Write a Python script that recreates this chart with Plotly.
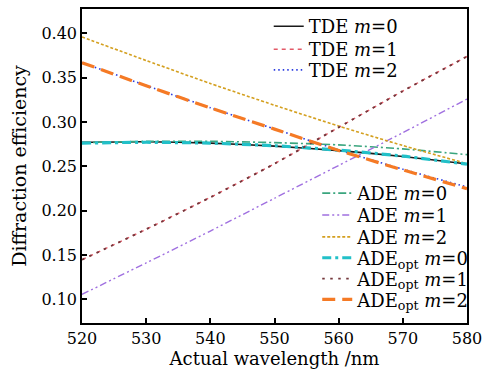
import plotly.graph_objects as go

wavelength = [520, 530, 540, 550, 560, 570, 580]

tde_m0 = [0.2772, 0.2778, 0.2762, 0.2728, 0.2678, 0.2612, 0.2528]
tde_m1 = [0.1446, 0.1790, 0.2150, 0.2530, 0.2940, 0.3350, 0.3740]
tde_m2 = [0.3670, 0.3412, 0.3162, 0.2922, 0.2685, 0.2468, 0.2267]

ade_m0 = [0.2768, 0.2782, 0.2783, 0.2768, 0.2742, 0.2697, 0.2632]
ade_m1 = [0.1055, 0.1410, 0.1770, 0.2140, 0.2510, 0.2880, 0.3260]
ade_m2 = [0.3960, 0.3695, 0.3435, 0.3190, 0.2955, 0.2735, 0.2530]

adeopt_m0 = [0.2762, 0.2772, 0.2762, 0.2733, 0.2683, 0.2615, 0.2525]
adeopt_m1 = [0.1446, 0.1790, 0.2150, 0.2530, 0.2940, 0.3350, 0.3740]
adeopt_m2 = [0.3670, 0.3410, 0.3160, 0.2920, 0.2680, 0.2460, 0.2248]

series = [
    ("TDE <i>m</i>=0", tde_m0, "#1a1a1a", "solid", 1.6),
    ("TDE <i>m</i>=1", tde_m1, "#e35a68", "4px,4px", 1.4),
    ("TDE <i>m</i>=2", tde_m2, "#2a3be0", "1.5px,3px", 1.6),
    ("ADE <i>m</i>=0", ade_m0, "#3aa57e", "8px,3px,2px,3px", 1.6),
    ("ADE <i>m</i>=1", ade_m1, "#a070e0", "7px,3px,2px,3px,2px,3px", 1.4),
    ("ADE <i>m</i>=2", ade_m2, "#d4a020", "3px,2px", 1.6),
    ("ADE<sub>opt</sub> <i>m</i>=0", adeopt_m0, "#22c0c8", "9px,4px,3px,4px", 3.2),
    ("ADE<sub>opt</sub> <i>m</i>=1", adeopt_m1, "#74383c", "2.5px,5.5px", 1.9),
    ("ADE<sub>opt</sub> <i>m</i>=2", adeopt_m2, "#f57a25", "13px,7px", 3.2),
]

# legend box anchors (paper coords), one per legend row
legend_x = [0.485, 0.485, 0.485, 0.611, 0.611, 0.611, 0.611, 0.611, 0.611]
legend_y = [1.003, 0.930, 0.864, 0.4715, 0.4019, 0.3323, 0.2658, 0.1994, 0.1329]

fig = go.Figure()
layout_legends = {}
for i, (name, ys, color, dash, width) in enumerate(series):
    key = "legend" if i == 0 else f"legend{i + 1}"
    fig.add_trace(go.Scatter(
        x=wavelength, y=ys, mode="lines", name=name,
        line=dict(color=color, dash=dash, width=width, shape="spline", smoothing=0.6),
        legend=key,
    ))
    layout_legends[key] = dict(
        x=legend_x[i], y=legend_y[i], xanchor="left", yanchor="top",
        bgcolor="rgba(0,0,0,0)", font=dict(size=18), itemwidth=30,
    )

font_family = "DejaVu Serif"
fig.update_layout(
    width=489, height=377,
    margin=dict(l=82, r=17, t=7, b=54),
    paper_bgcolor="white", plot_bgcolor="white",
    font=dict(family=font_family, size=16, color="black"),
    showlegend=True,
    **layout_legends,
)
fig.update_xaxes(
    range=[520, 580], dtick=10, tick0=520,
    showline=True, mirror=True, linecolor="black", linewidth=1.5,
    ticks="inside", ticklen=5, tickwidth=1.5, tickcolor="black",
    showgrid=False, zeroline=False,
    title=dict(text="Actual wavelength /nm", font=dict(size=18), standoff=4),
    tickfont=dict(size=16),
)
fig.update_yaxes(
    range=[0.0732, 0.4276], dtick=0.05, tick0=0.10, tickformat=".2f",
    showline=True, mirror=True, linecolor="black", linewidth=1.5,
    ticks="inside", ticklen=5, tickwidth=1.5, tickcolor="black",
    showgrid=False, zeroline=False,
    title=dict(text="Diffraction efficiency", font=dict(size=19), standoff=10),
    tickfont=dict(size=16),
)

fig.write_html("out.html", post_script="document.body.style.margin='0';",
               config={"displayModeBar": False})
